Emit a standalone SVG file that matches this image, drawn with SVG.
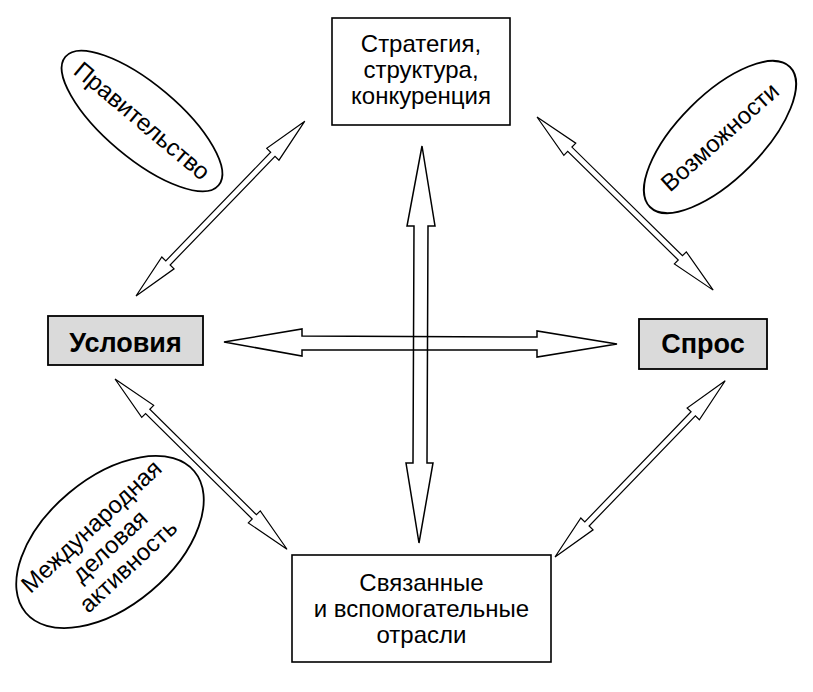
<svg xmlns="http://www.w3.org/2000/svg" width="813" height="692" viewBox="0 0 813 692">
<style>
  text { font-family: "Liberation Sans", Arial, Helvetica, sans-serif; fill: #000; }
  .lbl { font-size: 24px; text-anchor: middle; }
  .bold { font-size: 27px; font-weight: bold; text-anchor: middle; }
  .box { fill: #fff; stroke: #000; stroke-width: 1.6; }
  .gbox { fill: #dadada; stroke: #000; stroke-width: 1.8; }
  .oval { fill: #fff; stroke: #000; stroke-width: 1.8; }
  .arr { fill: #fff; stroke: #000; stroke-width: 1.2; stroke-linejoin: miter; }
  .big { fill: none; stroke: #000; stroke-width: 1.5; stroke-linejoin: miter; }
</style>
<rect width="813" height="692" fill="#fff"/>

<g id="connectors">
  <path class="arr" transform="translate(136,296) rotate(-46)" d="M0,0 L46,-8.5 L46,-3 L197,-3 L197,-8.5 L243,0 L197,8.5 L197,3 L46,3 L46,8.5 Z"/>
  <path class="arr" transform="translate(537,117) rotate(44.5)" d="M0,0 L46,-8.5 L46,-3 L201,-3 L201,-8.5 L247,0 L201,8.5 L201,3 L46,3 L46,8.5 Z"/>
  <path class="arr" transform="translate(115,379) rotate(44.7)" d="M0,0 L46,-8.5 L46,-3 L196,-3 L196,-8.5 L242,0 L196,8.5 L196,3 L46,3 L46,8.5 Z"/>
  <path class="arr" transform="translate(555,557) rotate(-46)" d="M0,0 L46,-8.5 L46,-3 L199,-3 L199,-8.5 L245,0 L199,8.5 L199,3 L46,3 L46,8.5 Z"/>
  <path class="big" d="M224,342 L302,329 L302,336 L537,337 L537,331 L617,344 L537,357 L537,350 L302,350 L302,356 Z"/>
  <path class="big" d="M422,146 L435,226 L428,226 L427,463 L433,463 L419,543 L406,463 L413,463 L414,226 L407,226 Z"/>
</g>

<g id="node-strategy">
  <rect class="box" x="332" y="18" width="178" height="107"/>
  <text class="lbl" x="421" y="52">Стратегия,</text>
  <text class="lbl" x="421" y="78">структура,</text>
  <text class="lbl" x="421" y="104">конкуренция</text>
</g>

<g id="node-conditions">
  <rect class="gbox" x="48" y="316" width="155" height="49"/>
  <text class="bold" x="125.5" y="352">Условия</text>
</g>

<g id="node-demand">
  <rect class="gbox" x="639" y="319" width="128" height="50"/>
  <text class="bold" x="703" y="353">Спрос</text>
</g>

<g id="node-related">
  <rect class="box" x="292" y="555" width="259" height="107"/>
  <text class="lbl" x="421.5" y="591">Связанные</text>
  <text class="lbl" x="421.5" y="617">и вспомогательные</text>
  <text class="lbl" x="421.5" y="643">отрасли</text>
</g>

<g id="node-government" transform="translate(142,121) rotate(40)">
  <ellipse class="oval" cx="0" cy="0" rx="100" ry="37"/>
  <text class="lbl" x="0" y="8">Правительство</text>
</g>

<g id="node-opportunities" transform="translate(720,137) rotate(-45)">
  <ellipse class="oval" cx="0" cy="0" rx="99" ry="42"/>
  <text class="lbl" x="0" y="8" transform="rotate(3)">Возможности</text>
</g>

<g id="node-international" transform="translate(110,542) rotate(-40)">
  <ellipse class="oval" cx="0" cy="0" rx="110" ry="64"/>
  <g transform="rotate(-3)">
    <text class="lbl" x="-3" y="-16">Международная</text>
    <text class="lbl" x="-3" y="11">деловая</text>
    <text class="lbl" x="-3" y="38">активность</text>
  </g>
</g>
</svg>
